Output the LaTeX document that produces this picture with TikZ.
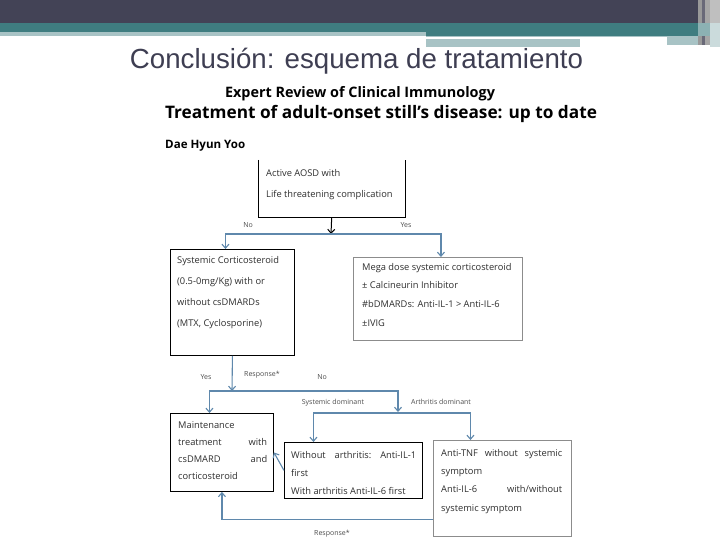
\documentclass[tikz,border=0pt]{standalone}
\usepackage{fontspec}
\setmainfont{Open Sans}
\newfontfamily\arialf{Liberation Sans}
\usetikzlibrary{arrows.meta}
\definecolor{hdark}{HTML}{434356}
\definecolor{hteal}{HTML}{3F7D80}
\definecolor{hlight}{HTML}{A8C3C5}
\definecolor{conncol}{HTML}{5F88AC}
\definecolor{titlecol}{HTML}{3E3E52}
\definecolor{txtc}{HTML}{2E2E2E}
\begin{document}
\begin{tikzpicture}[x=1pt,y=-1pt,
  box/.style={draw=black,line width=0.9pt,anchor=north west,inner sep=0pt},
  graybox/.style={box,draw=black!45},
  tx/.style={anchor=north west,inner sep=0pt,align=left,text=txtc,font=\fontsize{9.3}{#1}\selectfont},
  conn/.style={draw=conncol,line width=1.1pt,-{Straight Barb[length=4pt,width=7pt]}},
  lab/.style={font=\fontsize{7}{8}\selectfont,text=txtc!85,inner sep=0pt}]
\useasboundingbox (0,0) rectangle (720,540);
\fill[white] (0,0) rectangle (720,540);
% header bands
\fill[hdark] (0,0) rectangle (698,23);
\fill[hteal] (0,23) rectangle (698,32);
\fill[hlight] (0,32) rectangle (426,36);
\fill[hteal] (426,32) rectangle (698,36);
\fill[hlight] (426,36) rectangle (667,37);
\fill[white] (426,37) rectangle (667,39.5);
\fill[hlight] (426,39.5) rectangle (580,47);
\fill[hlight] (667,36) rectangle (698,45);
\fill[black!40] (698,0) rectangle (702,45);
\fill[hdark!80] (702,0) rectangle (705,45);
\fill[black!35] (705,0) rectangle (710,45);
\fill[black!25] (710,0) rectangle (720,23);
\fill[hlight!60] (710,23) rectangle (720,47);
\fill[hteal!60] (698,23) rectangle (710,36);
% title
\node[anchor=center,inner sep=0pt,text=titlecol] (title) at (356.5,61)
  {\resizebox{453pt}{!}{\arialf Conclusión: esquema de tratamiento}};
% paper heading
\node[anchor=center,inner sep=0pt] (journal) at (360,94)
  {\resizebox{270pt}{!}{\bfseries Expert Review of Clinical Immunology}};
\node[anchor=center,inner sep=0pt] (paper) at (381,114)
  {\resizebox{432pt}{!}{\bfseries Treatment of adult-onset still’s disease: up to date}};
\node[anchor=west,inner sep=0pt] (author) at (165,146)
  {\resizebox{80pt}{!}{\bfseries Dae Hyun Yoo}};
% boxes
\node[anchor=north west,inner sep=0pt,minimum width=147pt,minimum height=57pt] (top) at (258,160) {};
\draw[line width=0.9pt] (top.north west) -- (top.south west) -- (top.south east) -- (top.north east);
\node[tx=21] (toptx) at (266,169) {Active AOSD with\\Life threatening complication};

\node[box,minimum width=124pt,minimum height=106pt] (sys) at (170,249) {};
\node[tx=21] (systx) at (177,256) {Systemic Corticosteroid\\(0.5-0mg/Kg) with or\\without csDMARDs\\(MTX, Cyclosporine)};

\node[graybox,minimum width=169pt,minimum height=83pt] (mega) at (353,257) {};
\node[tx=18.7] (megatx) at (362,263) {Mega dose systemic corticosteroid\\± Calcineurin Inhibitor\\\#bDMARDs: Anti-IL-1 > Anti-IL-6\\±IVIG};

\node[box,minimum width=103pt,minimum height=78pt] (maint) at (170,413) {};
\node[tx=17] (mainttx) at (178,421) {Maintenance\\\makebox[89pt][s]{treatment\hfill with}\\\makebox[89pt][s]{csDMARD\hfill and}\\corticosteroid};

\node[box,minimum width=138pt,minimum height=56pt] (mid) at (284,442) {};
\node[tx=18] (midtx) at (291,451) {\makebox[125pt][s]{Without\hfill arthritis:\hfill Anti-IL-1}\\first\\With arthritis Anti-IL-6 first};

\node[graybox,minimum width=138pt,minimum height=96pt] (rgt) at (433,440) {};
\node[tx=18.3] (rgttx) at (441,449) {\makebox[121pt][s]{Anti-TNF\hfill without\hfill systemic}\\symptom\\\makebox[121pt][s]{Anti-IL-6\hfill with/without}\\systemic symptom};

% junction coordinates
\coordinate (j1) at (331,234);
\coordinate (j2) at (232,391);
\coordinate (j3) at (398,412);
% connectors
\draw[line width=1pt,-{Straight Barb[length=4pt,width=7pt]}] (top.south) -- (j1);
\draw[conn] (j1) -| ([xshift=-7pt]sys.north);
\draw[conn] (j1) -| ([xshift=3pt]mega.north);
\draw[conn] (sys.south) -- (j2);
\draw[conn] (j2) -| ([xshift=-12.5pt]maint.north);
\draw[conn] (j2) -| (j3);
\draw[conn] ([yshift=-1pt]j3) -| ([xshift=-40pt]mid.north);
\draw[conn] ([yshift=-1pt]j3) -| ([xshift=-32pt]rgt.north);
\draw[conn] (mid.west) -- (maint.east);
\draw[conn] ([yshift=-31pt]rgt.west) -| (maint.south);
% labels
\node[lab] (lno1) at (248,225) {No};
\node[lab] (lyes1) at (406,225) {Yes};
\node[lab] (lyes2) at (206,377) {Yes};
\node[lab] (lresp1) at (262,375) {Response*};
\node[lab] (lno2) at (322,377) {No};
\node[lab] (lsys) at (333,403) {Systemic dominant};
\node[lab] (larth) at (441,402) {Arthritis dominant};
\node[lab] (lresp2) at (332,534) {Response*};
\end{tikzpicture}
\end{document}
